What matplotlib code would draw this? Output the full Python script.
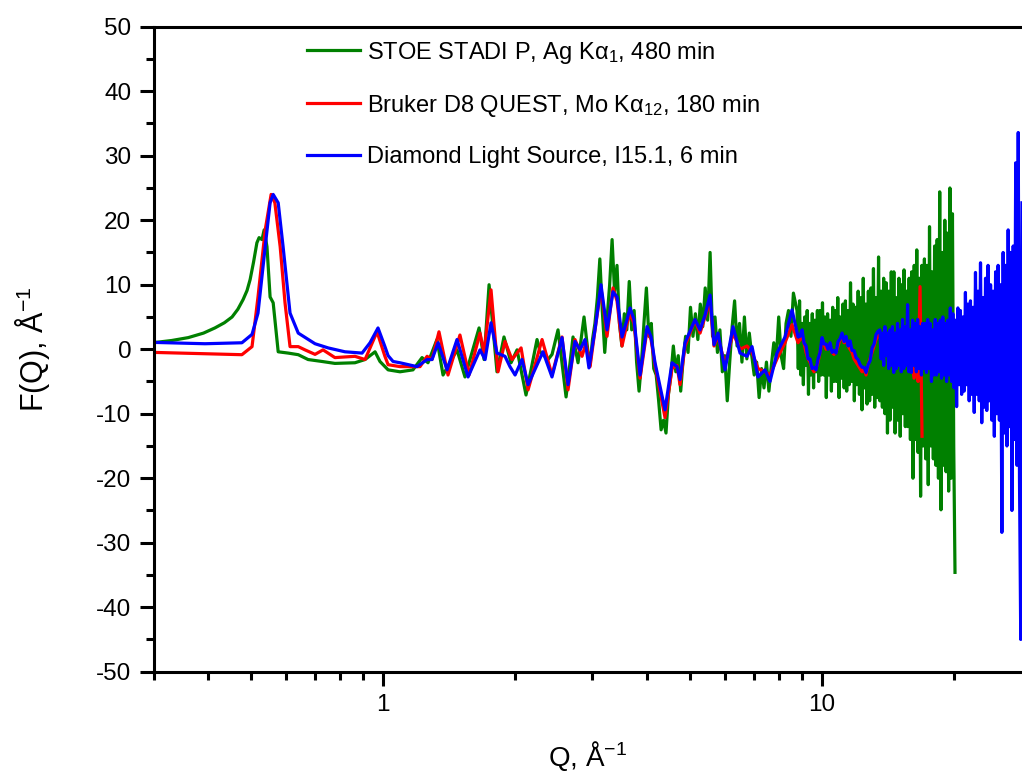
import numpy as np
import matplotlib
matplotlib.use('Agg')
import matplotlib.pyplot as plt
from matplotlib.ticker import MultipleLocator, FixedLocator, NullFormatter, LogLocator

plt.rcParams['font.family'] = ['Liberation Sans', 'DejaVu Sans']
plt.rcParams['mathtext.fontset'] = 'custom'
plt.rcParams['mathtext.rm'] = 'Liberation Sans'
plt.rcParams['mathtext.it'] = 'Liberation Sans:italic'
plt.rcParams['axes.unicode_minus'] = False

# STOE STADI P, Ag Ka1 (green)
stoe_q = [0.303, 0.33, 0.36, 0.39, 0.414, 0.435, 0.453, 0.467, 0.480, 0.490,
          0.498, 0.507, 0.516, 0.522, 0.530, 0.536, 0.544, 0.553, 0.562, 0.577,
          0.608, 0.641, 0.675, 0.726, 0.777, 0.863, 0.910, 0.959, 0.984, 1.027,
          1.093, 1.170, 1.227, 1.266, 1.327, 1.370, 1.474, 1.537, 1.655, 1.699,
          1.744, 1.818, 1.886, 1.957, 2.020, 2.117, 2.243, 2.279, 2.376, 2.427,
          2.504, 2.612, 2.709, 2.781, 2.870, 2.931]
stoe_f = [1.05, 1.35, 1.8, 2.5, 3.3, 4.1, 5.0, 6.2, 7.7, 9.1,
          10.8, 13.5, 16.5, 17.3, 17.0, 18.5, 15.9, 8.1, 7.2, -0.4,
          -0.6, -0.85, -1.6, -1.9, -2.2, -2.1, -1.6, -0.4, -1.9, -3.2,
          -3.5, -3.2, -1.3, -2.1, 1.5, -4.0, -0.1, -4.3, 3.3, -1.6,
          10.0, -3.5, 1.9, -2.1, -0.1, -7.1, 1.5, -0.4, -1.6, -0.8,
          3.0, -7.4, 1.9, -2.1, 5.0, -0.5]
# noisy parts, each sampled evenly (log) between its Q limits
stoe_mid_range = (2.962, 8.607)
stoe_mid_f = [-2.5, 1.5, 4.0, 8.0, 14.0, 6.0, -0.5, 5.0, 10.0, 17.0,
              9.0, 13.0, 4.0, 0.5, 5.5, 3.0, 10.5, 3.0, 6.0, -2.0,
              -6.5, -2.0, 4.0, 9.5, 2.0, 4.0, -3.0, -4.0, -8.0, -12.5,
              -11.0, -13.0, -7.0, -4.0, 0.5, -3.5, -1.0, -6.5, -1.5, 2.0,
              -0.5, 6.5, 2.0, 5.5, 1.5, 7.0, 3.5, 9.5, 4.5, 15.0,
              2.0, 5.0, -0.5, 3.0, -3.5, -1.0, -8.0, -2.0, 3.5, 7.5,
              0.5, 4.0, -2.0, 5.0, -1.5, 2.5, -1.0, -4.0, -2.0, -7.5,
              -3.0, -6.0, -2.0, -6.5, -2.5, 1.0, -1.5, 5.0, -1.0, -3.0,
              4.0, 6.0, 2.0, 8.7]
stoe_high_range = (8.771, 20.09)
stoe_high_f = [6.0, -3.0, 7.5, -4.0, 4.0, -5.5, 5.0, -2.5, 6.0, -7.0,
               4.0, -4.0, 5.5, -6.0, 4.5, -3.5, 6.0, -5.0, 6.0, -4.0,
               7.2, -4.0, 5.0, -7.5, 5.5, -4.0, 4.5, -6.5, 6.5, -5.0,
               6.0, -5.0, 8.0, -7.5, 5.0, -4.5, 7.0, -6.0, 7.5, -6.5,
               6.0, -5.5, 10.3, -5.0, 7.0, -8.0, 6.5, -5.5, 9.0, -7.0,
               8.0, -9.4, 11.0, -6.0, 7.0, -8.5, 9.0, -8.0, 9.5, -7.0,
               12.5, -9.0, 8.0, -7.5, 14.3, -8.0, 9.0, -9.0, 11.0, -10.0,
               10.3, -13.0, 9.0, -11.0, 12.0, -9.0, 12.0, -13.0, 8.0, -11.0,
               11.0, -13.5, 10.0, -10.0, 12.3, -12.0, 9.0, -12.0, 11.0, -14.0,
               12.0, -20.0, 13.0, -14.0, 15.4, -16.0, 11.0, -22.8, 13.0, -15.0,
               14.0, -17.0, 13.0, -21.0, 19.0, -15.0, 12.0, -17.0, 16.0, -18.0,
               17.0, -20.0, 24.4, -24.9, 15.0, -18.0, 20.0, -19.0, 18.0, -22.0,
               25.0, -20.0, 21.0, -15.0, -34.6]

# Bruker D8 QUEST, Mo Ka12 (red)
mo_q = [0.303, 0.477, 0.503, 0.519, 0.539, 0.556, 0.567, 0.583, 0.598, 0.614,
        0.641, 0.664, 0.700, 0.730, 0.777, 0.863, 0.910, 0.969, 1.010, 1.027,
        1.093, 1.214, 1.260, 1.293, 1.341, 1.406, 1.497, 1.570, 1.663, 1.699,
        1.762, 1.828, 1.896, 1.967, 2.063, 2.140, 2.303, 2.426, 2.557, 2.639,
        2.737, 2.840, 2.900, 2.962, 3.040, 3.137, 3.238, 3.341, 3.412, 3.503,
        3.596, 3.653, 3.730, 3.850, 3.994, 4.079, 4.165, 4.389, 4.553, 4.674,
        4.748, 4.875, 5.137, 5.274, 5.415, 5.558, 5.675, 5.796, 6.012, 6.270,
        6.506, 6.749, 6.928, 7.149, 7.417, 7.613, 7.897, 8.236, 8.545, 8.818]
mo_f = [-0.5, -0.85, 0.4, 8.1, 18.5, 24.0, 22.7, 15.9, 7.2, 0.4,
        0.4, -0.1, -0.8, -0.1, -1.3, -1.1, -1.6, 2.7, -1.1, -2.4,
        -2.7, -2.7, -1.1, -1.6, 2.7, -4.0, 2.2, -4.0, 2.5, -0.6,
        9.2, -3.5, 1.2, -1.6, 0.2, -6.3, 1.5, -4.0, 1.9, -6.3,
        1.5, -1.1, 1.0, -2.7, 3.0, 9.5, 2.0, 9.5, 7.5, 0.5,
        4.0, 5.5, 4.0, -4.5, 3.0, 1.5, -2.5, -10.6, -3.0, -2.5,
        -5.5, 0.5, 4.5, 2.5, 5.0, 7.5, 0.5, 2.0, -2.5, 2.5,
        0.0, 0.5, -0.5, -3.0, -3.5, -4.0, -1.5, 1.0, 3.8, 1.0]
mo_tail_range = (8.911, 16.90)
mo_tail_f = [1.5, 2.0, 1.0, -0.5, -1.5, -2.0, -3.0, -3.5, -3.0, -2.0,
             -0.5, 1.0, 0.8, 0.0, 0.2, 0.5, -0.5, -0.8, -0.5, 0.5,
             1.5, 2.0, 1.0, 1.5, 0.5, 0.0, -0.5, -1.5, -2.0, -2.5,
             -3.0, -3.5, -3.0, -4.0, -2.5, -1.5, -0.5, 0.5, 1.5, 2.0,
             2.5, 0.5, 2.0, -0.5, -1.0, 1.0, 1.5, 0.0, 2.0, 0.5,
             1.5, -0.5, 1.0, -1.5, -1.0, -3.0, -2.0, -4.5, -3.0, -5.0,
             9.7, -13.5]

# Diamond Light Source, I15.1 (blue)
dls_q = [0.303, 0.393, 0.477, 0.503, 0.519, 0.539, 0.553, 0.562, 0.577, 0.592,
         0.614, 0.641, 0.700, 0.750, 0.819, 0.896, 0.934, 0.974, 1.010, 1.027,
         1.054, 1.093, 1.195, 1.260, 1.293, 1.335, 1.399, 1.474, 1.562, 1.663,
         1.708, 1.762, 1.818, 1.896, 1.946, 1.999, 2.073, 2.140, 2.314, 2.426,
         2.557, 2.639, 2.737, 2.810, 2.885, 2.945, 3.040, 3.137, 3.238, 3.341,
         3.412, 3.503, 3.596, 3.653, 3.730, 3.850, 3.994, 4.079, 4.165, 4.389,
         4.553, 4.674, 4.748, 4.875, 5.137, 5.274, 5.415, 5.558, 5.675, 5.796,
         6.012, 6.270, 6.506, 6.749, 6.928, 7.149, 7.417, 7.613, 7.897, 8.236,
         8.545, 8.818]
dls_f = [1.05, 0.85, 1.0, 2.3, 5.6, 15.9, 22.7, 24.0, 22.7, 15.9,
         5.6, 2.5, 0.85, 0.2, -0.4, -0.6, 1.0, 3.3, 0.4, -1.0,
         -1.9, -2.1, -2.7, -1.6, -1.6, 1.0, -3.2, 1.5, -4.3, -0.1,
         -1.6, 4.1, -0.6, -1.1, -2.7, -4.0, -1.6, -5.5, -0.4, -4.3,
         1.8, -5.5, 1.2, -0.1, 1.5, -2.9, 3.0, 10.0, 3.0, 8.9,
         8.1, 1.9, 4.6, 6.4, 4.6, -4.0, 3.5, 1.9, -2.1, -9.4,
         -2.1, -2.7, -4.7, 1.0, 4.6, 3.0, 5.3, 8.4, 0.7, 2.5,
         -3.2, 3.5, -0.6, -1.1, 0.4, -4.3, -3.2, -5.0, -0.6, 1.9,
         6.1, 1.9]
dls_mid_range = (8.911, 13.42)
dls_mid_f = [2.0, 3.0, 1.0, 0.5, -1.5, -1.5, -3.0, -2.8, -3.2, -1.5,
             -0.5, 1.8, 0.8, 0.8, 0.0, 1.0, -0.5, -0.2, -0.6, 1.2,
             1.6, 2.5, 1.2, 2.0, 0.5, 1.3, -0.2, -0.2, -1.3, -1.6,
             -2.4, -2.8, -2.8, -3.6, -2.4, -1.8, 0.2, 0.8, 2.3, 2.8]
dls_high_range = (13.55, 28.55)
dls_high_f = [3.0, -1.5, 2.5, -2.5, 3.5, -1.0, 2.5, -3.0, 3.0, -2.5,
              3.5, -3.6, 2.5, -3.0, 4.0, -2.5, 3.0, -3.5, 4.6, -3.0,
              3.5, -2.5, 6.9, -3.5, 3.0, -3.6, 4.5, -2.5, 4.0, -3.5,
              4.6, -3.0, 3.5, -4.0, 4.0, -3.0, 4.0, -3.6, 4.6, -3.0,
              4.0, -5.0, 3.0, -4.0, 4.6, -4.0, 4.0, -3.5, 4.5, -4.5,
              5.0, -4.0, 4.0, -5.0, 4.5, -4.0, 6.4, -5.0, 5.5, -6.0,
              4.5, -8.9, 6.4, -5.5, 6.0, -7.0, 5.0, -6.5, 8.8, -5.5,
              7.0, -8.0, 7.5, -7.0, 6.5, -9.8, 11.9, -7.0, 9.0, -8.0,
              13.4, -11.4, 8.0, -9.0, 11.0, -9.5, 13.0, -8.0, 10.0, -11.0,
              9.0, -13.5, 12.0, -10.0, 13.0, -11.0, 10.0, -28.4, 15.0, -13.0,
              13.0, -15.0, 18.5, -12.0, 15.0, -25.0, 16.0, -14.0, 28.9, -18.0,
              33.6, -20.0, -45.0, 22.7]

labels = ['STOE STADI P, Ag K\u03b1$_{1}$, 480 min',
          'Bruker D8 QUEST, Mo K\u03b1$_{12}$, 180 min',
          'Diamond Light Source, I15.1, 6 min']
colors = ['#008000', '#ff0000', '#0000ff']


def build(q, f, noisy_parts):
    # smooth part, then noisy parts on log-even Q grids
    qs, fs = [np.asarray(q)], [np.asarray(f)]
    for (q0, q1), vals in noisy_parts:
        qs.append(np.geomspace(q0, q1, len(vals)))
        fs.append(np.asarray(vals))
    return np.concatenate(qs), np.concatenate(fs)


fig = plt.figure(figsize=(10.22, 7.75), dpi=100)
ax = fig.add_axes([0.1502, 0.1333, 0.8498, 0.8322])

series = [build(stoe_q, stoe_f, [(stoe_mid_range, stoe_mid_f), (stoe_high_range, stoe_high_f)]),
          build(mo_q, mo_f, [(mo_tail_range, mo_tail_f)]),
          build(dls_q, dls_f, [(dls_mid_range, dls_mid_f), (dls_high_range, dls_high_f)])]
for (q, f), c, lab in zip(series, colors, labels):
    ax.plot(q, f, color=c, lw=2.3, label=lab)

ax.set_xscale('log')
ax.set_xlim(0.3, 28.55)
ax.set_ylim(-50, 50)

ax.xaxis.set_major_locator(FixedLocator([1, 10]))
ax.set_xticklabels(['1', '10'])
ax.xaxis.set_minor_locator(LogLocator(base=10, subs=np.arange(2, 10)))
ax.xaxis.set_minor_formatter(NullFormatter())
ax.yaxis.set_major_locator(MultipleLocator(10))
ax.yaxis.set_minor_locator(MultipleLocator(5))

for side in ['left', 'bottom', 'top']:
    ax.spines[side].set_linewidth(2.2)
ax.spines['right'].set_visible(False)
ax.tick_params(which='major', direction='out', length=10, width=2.2,
               labelsize=17.5, pad=6)
ax.tick_params(which='minor', direction='out', length=5.5, width=2.2)
ax.tick_params(top=False, right=False, which='both')

ax.set_xlabel('Q, \u00c5$^{-1}$', fontsize=20)
ax.set_ylabel('F(Q), \u00c5$^{-1}$', fontsize=22)
ax.xaxis.set_label_coords(0.5, -0.104)
ax.yaxis.set_label_coords(-0.117, 0.5)

leg = ax.legend(loc='upper left', bbox_to_anchor=(0.3004, 0.949),
                bbox_transform=fig.transFigure, frameon=False,
                prop={'size': 17},
                handlelength=2.25, handletextpad=0.3, labelspacing=1.15,
                borderpad=0, borderaxespad=0)
for line in leg.get_lines():
    line.set_linewidth(2.3)

plt.savefig('out.png', dpi=100)
